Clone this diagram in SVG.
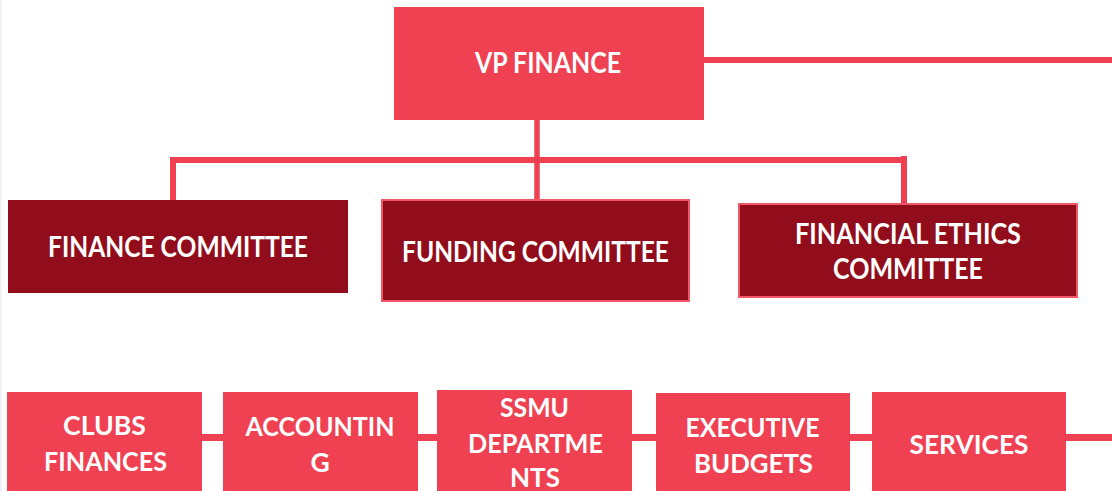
<svg xmlns="http://www.w3.org/2000/svg" width="1112" height="491" viewBox="0 0 1112 491">
<style>
.lt{fill:#EF4152}
.dk{fill:#920D1B}
.bd{stroke:#F25865;stroke-width:2}
.ln{stroke:#EF4152;fill:none}
text{font-family:Lato,"Liberation Sans",sans-serif;fill:#FFFFFF;text-anchor:middle;font-weight:700}
.t{font-size:28px}
.b{font-size:26.5px}
</style>
<rect x="0" y="0" width="1112" height="491" fill="#FFFFFF"/>
<rect x="0" y="0" width="1.5" height="491" fill="#EFEFEF"/>
<g id="connectors">
<line class="ln" x1="704" y1="60" x2="1112" y2="60" stroke-width="6"/>
<line class="ln" x1="537" y1="119" x2="537" y2="201" stroke-width="5.5"/>
<line class="ln" x1="170" y1="160" x2="907" y2="160" stroke-width="6"/>
<line class="ln" x1="173" y1="157" x2="173" y2="201" stroke-width="6"/>
<line class="ln" x1="904" y1="156" x2="904" y2="204" stroke-width="6"/>
<line class="ln" x1="200" y1="437.5" x2="1112" y2="437.5" stroke-width="7"/>
</g>
<g id="vp-finance">
<rect class="lt" x="394" y="7" width="310" height="113"/>
<text class="t" x="548" y="73" textLength="146" lengthAdjust="spacingAndGlyphs">VP FINANCE</text>
</g>
<g id="finance-committee">
<rect class="dk" x="8" y="200" width="340" height="93"/>
<text class="t" x="178" y="257" textLength="260" lengthAdjust="spacingAndGlyphs">FINANCE COMMITTEE</text>
</g>
<g id="funding-committee">
<rect class="dk bd" x="382" y="200" width="307" height="101"/>
<text class="t" x="535.5" y="262" textLength="267" lengthAdjust="spacingAndGlyphs">FUNDING COMMITTEE</text>
</g>
<g id="financial-ethics-committee">
<rect class="dk bd" x="739" y="204" width="338" height="93"/>
<text class="t" x="908" y="244" textLength="226" lengthAdjust="spacingAndGlyphs">FINANCIAL ETHICS</text>
<text class="t" x="908" y="279" textLength="150" lengthAdjust="spacingAndGlyphs">COMMITTEE</text>
</g>
<g id="clubs-finances">
<rect class="lt" x="7" y="392" width="195" height="99"/>
<text class="b" x="104.5" y="435" textLength="83" lengthAdjust="spacingAndGlyphs">CLUBS</text>
<text class="b" x="105.5" y="471" textLength="123" lengthAdjust="spacingAndGlyphs">FINANCES</text>
</g>
<g id="accounting">
<rect class="lt" x="223" y="392" width="195" height="99"/>
<text class="b" x="320" y="436" textLength="149" lengthAdjust="spacingAndGlyphs">ACCOUNTIN</text>
<text class="b" x="320" y="472">G</text>
</g>
<g id="ssmu-departments">
<rect class="lt" x="437" y="390" width="195" height="101"/>
<text class="b" x="534.5" y="417" textLength="69" lengthAdjust="spacingAndGlyphs">SSMU</text>
<text class="b" x="535.5" y="453" textLength="135" lengthAdjust="spacingAndGlyphs">DEPARTME</text>
<text class="b" x="535" y="487" textLength="50" lengthAdjust="spacingAndGlyphs">NTS</text>
</g>
<g id="executive-budgets">
<rect class="lt" x="656" y="393" width="194" height="98"/>
<text class="b" x="752.5" y="437" textLength="134" lengthAdjust="spacingAndGlyphs">EXECUTIVE</text>
<text class="b" x="753.5" y="473" textLength="119" lengthAdjust="spacingAndGlyphs">BUDGETS</text>
</g>
<g id="services">
<rect class="lt" x="872" y="392" width="194" height="99"/>
<text class="b" x="969" y="454" textLength="119" lengthAdjust="spacingAndGlyphs">SERVICES</text>
</g>
</svg>
